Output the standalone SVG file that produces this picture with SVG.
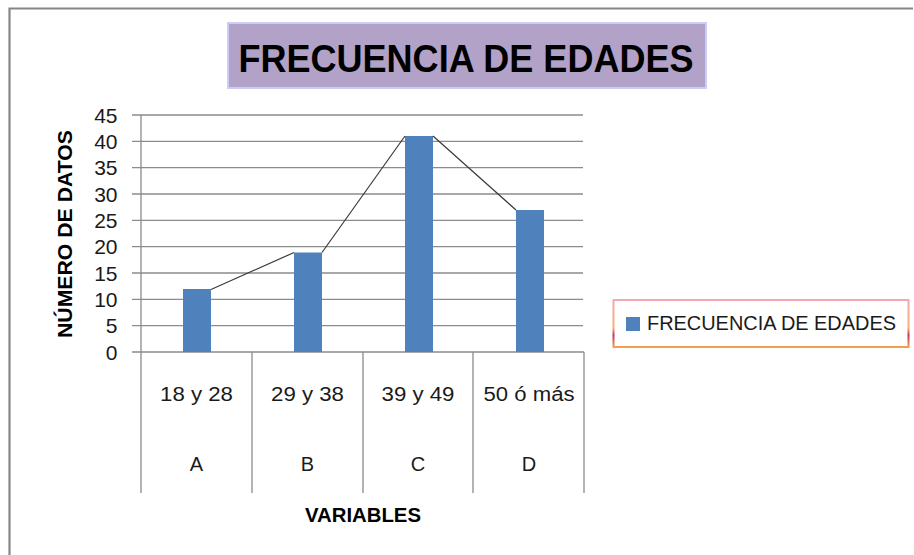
<svg xmlns="http://www.w3.org/2000/svg" width="914" height="555" viewBox="0 0 914 555">
<style>
.grid{stroke:#8c8c8c;stroke-width:1.3;fill:none}
.axis{stroke:#8c8c8c;stroke-width:1.3;fill:none}
.bar{fill:#4f81bd}
.tick{font-family:"Liberation Sans",Arial,sans-serif;font-size:21px;fill:#1a1a1a;text-anchor:end}
.cat{font-family:"Liberation Sans",Arial,sans-serif;font-size:20px;fill:#1a1a1a;text-anchor:middle}
.bold{font-family:"Liberation Sans",Arial,sans-serif;font-weight:bold;fill:#000;text-anchor:middle}
.conn{stroke:#3a3a3a;stroke-width:1.2;fill:none}
</style>
<defs>
<linearGradient id="lg" x1="0" y1="0" x2="0" y2="1">
<stop offset="0" stop-color="#f7a6b4"/>
<stop offset="0.6" stop-color="#f5b070"/>
<stop offset="0.75" stop-color="#c0306a"/>
<stop offset="1" stop-color="#f6a04d"/>
</linearGradient>
</defs>
<rect x="0" y="0" width="914" height="555" fill="#ffffff"/>
<path d="M9.5,556 V8.5 H913" stroke="#868686" stroke-width="2.2" fill="none"/>

<g id="title">
<rect x="228" y="23" width="478" height="65" fill="#b3a2c7" stroke="#c9cdf7" stroke-width="2"/>
<text class="bold" x="466" y="72" font-size="39" textLength="455" lengthAdjust="spacingAndGlyphs">FRECUENCIA DE EDADES</text>
</g>

<g id="grid">
<path class="grid" d="M132,115H583M132,141.33H583M132,167.67H583M132,194H583M132,220.33H583M132,246.67H583M132,273H583M132,299.33H583M132,325.67H583"/>
<path class="axis" d="M132,352H584M141,115V493M252,352V493M363,352V493M473,352V493M584,352V493"/>
</g>

<g id="y-axis">
<text class="tick" x="117.5" y="122.7">45</text>
<text class="tick" x="117.5" y="149">40</text>
<text class="tick" x="117.5" y="175.3">35</text>
<text class="tick" x="117.5" y="201.7">30</text>
<text class="tick" x="117.5" y="228">25</text>
<text class="tick" x="117.5" y="254.3">20</text>
<text class="tick" x="117.5" y="280.7">15</text>
<text class="tick" x="117.5" y="307">10</text>
<text class="tick" x="117.5" y="333.3">5</text>
<text class="tick" x="117.5" y="359.7">0</text>
<text class="bold" font-size="21" transform="translate(72,234) rotate(-90)" x="0" y="0" textLength="208" lengthAdjust="spacingAndGlyphs">NÚMERO DE DATOS</text>
</g>

<g id="bar-A"><rect class="bar" x="183" y="289" width="28" height="63"/></g>
<g id="bar-B"><rect class="bar" x="294" y="252.5" width="28" height="99.5"/></g>
<g id="bar-C"><rect class="bar" x="405" y="136" width="28" height="216"/></g>
<g id="bar-D"><rect class="bar" x="516" y="210" width="28" height="142"/></g>

<g id="connectors">
<line class="conn" x1="211" y1="289.5" x2="294" y2="252.5"/>
<line class="conn" x1="322" y1="252.5" x2="405" y2="136"/>
<line class="conn" x1="433" y1="136" x2="516" y2="210"/>
</g>

<g id="categories">
<text class="cat" x="196.5" y="401" textLength="73" lengthAdjust="spacingAndGlyphs">18 y 28</text>
<text class="cat" x="307.5" y="401" textLength="73" lengthAdjust="spacingAndGlyphs">29 y 38</text>
<text class="cat" x="418" y="401" textLength="73" lengthAdjust="spacingAndGlyphs">39 y 49</text>
<text class="cat" x="529" y="401" textLength="91" lengthAdjust="spacingAndGlyphs">50 ó más</text>
<text class="cat" x="196.5" y="471">A</text>
<text class="cat" x="307.5" y="471">B</text>
<text class="cat" x="418" y="471">C</text>
<text class="cat" x="529" y="471">D</text>
<text class="bold" font-size="21" x="363" y="522" textLength="116" lengthAdjust="spacingAndGlyphs">VARIABLES</text>
</g>

<g id="legend">
<rect x="613.5" y="300" width="295" height="47" fill="#ffffff" stroke="url(#lg)" stroke-width="2"/>
<rect x="626" y="317" width="14" height="14" fill="#4f81bd"/>
<text x="647" y="330" font-family="'Liberation Sans',Arial,sans-serif" font-size="20" fill="#1a1a1a" textLength="249" lengthAdjust="spacingAndGlyphs">FRECUENCIA DE EDADES</text>
</g>
</svg>
